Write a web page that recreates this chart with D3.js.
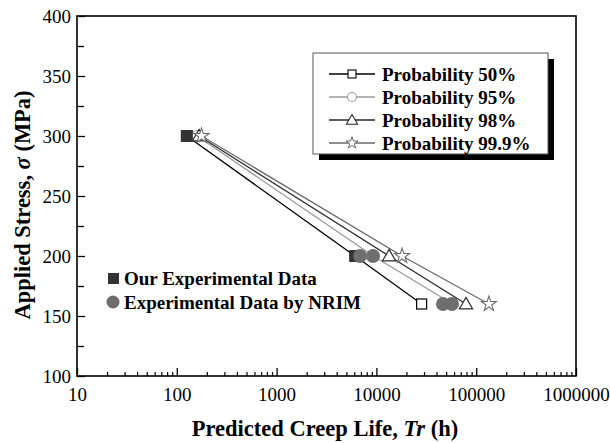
<!DOCTYPE html>
<html>
<head>
<meta charset="utf-8">
<script src="https://cdn.jsdelivr.net/npm/d3@7"></script>
<style>
  html, body { margin: 0; padding: 0; background: #fff; }
  svg { display: block; }
  text { font-family: "Liberation Serif", "Times New Roman", serif; }
</style>
</head>
<body>
<svg id="chart" width="610" height="443"></svg>
<script>
// Stress levels (MPa) and predicted creep life (h) for each probability curve
const stressLevels = [300, 200, 160];
const prob50  = [126, 6100, 28400];
const prob95  = [160, 9300, 58000];
const prob98  = [167, 13400, 79000];
const prob999 = [177, 18100, 134000];

// Measured rupture data
const ourStress = [300, 200];
const ourLife   = [126, 6200];
const nrimStress = [200, 200, 160, 160];
const nrimLife   = [6860, 9250, 46500, 57100];

// Axis ticks
const xTickValues = [10, 100, 1000, 10000, 100000, 1000000];
const xTickLabels = ["10", "100", "1000", "10000", "100000", "1000000"];
const yTickValues = [100, 150, 200, 250, 300, 350, 400];
const yTickLabels = ["100", "150", "200", "250", "300", "350", "400"];

const seriesNames = ["Probability 50%", "Probability 95%", "Probability 98%", "Probability 99.9%"];
const seriesValues = [prob50, prob95, prob98, prob999];

const svg = d3.select("#chart");
const margin = { left: 77, top: 16, right: 34, bottom: 67 };
const W = 610, H = 443;
const iw = W - margin.left - margin.right;
const ih = H - margin.top - margin.bottom;

const x = d3.scaleLog().domain([10, 1000000]).range([margin.left, margin.left + iw]);
const y = d3.scaleLinear().domain([100, 400]).range([margin.top + ih, margin.top]);

const styles = [
  { color: "#000", symbol: "square" },
  { color: "#9a9a9a", symbol: "circle" },
  { color: "#2a2a2a", symbol: "triangle" },
  { color: "#6a6a6a", symbol: "star" }
];

function drawMarker(g, type, cx, cy, color) {
  if (type === "square") {
    g.append("rect").attr("x", cx - 5).attr("y", cy - 5).attr("width", 10).attr("height", 10)
      .attr("fill", "#fff").attr("stroke", color).attr("stroke-width", 1.2);
  } else if (type === "circle") {
    g.append("circle").attr("cx", cx).attr("cy", cy).attr("r", 5.5)
      .attr("fill", "#fff").attr("stroke", color).attr("stroke-width", 1.2);
  } else if (type === "triangle") {
    g.append("path").attr("d", d3.symbol(d3.symbolTriangle, 75)())
      .attr("transform", `translate(${cx},${cy + 1})`)
      .attr("fill", "#fff").attr("stroke", color).attr("stroke-width", 1.2);
  } else {
    g.append("path").attr("d", d3.symbol(d3.symbolStar, 70)())
      .attr("transform", `translate(${cx},${cy})`)
      .attr("fill", "#fff").attr("stroke", color).attr("stroke-width", 1.1);
  }
}

// Axes (ticks point inward)
const xAxis = d3.axisBottom(x).tickValues(xTickValues)
  .tickFormat((d, i) => xTickLabels[i]).tickSizeInner(-8).tickSizeOuter(0).tickPadding(12);
const xMinor = [];
for (let e = 1; e < 6; e++) for (let k = 2; k <= 9; k++) xMinor.push(k * Math.pow(10, e));

const gx = svg.append("g").attr("transform", `translate(0,${margin.top + ih})`).call(xAxis);
gx.select(".domain").remove();
gx.selectAll(".tick line").attr("stroke", "#000").attr("stroke-width", 1.3);
gx.selectAll(".tick text").attr("font-size", 19).attr("fill", "#000");
svg.append("g").attr("transform", `translate(0,${margin.top + ih})`)
  .call(d3.axisBottom(x).tickValues(xMinor).tickFormat("").tickSizeInner(-4).tickSizeOuter(0))
  .call(g => g.select(".domain").remove())
  .selectAll(".tick line").attr("stroke", "#000").attr("stroke-width", 1.2);

const yAxis = d3.axisLeft(y).tickValues(yTickValues)
  .tickFormat((d, i) => yTickLabels[i]).tickSizeInner(-8).tickSizeOuter(0).tickPadding(6);
const gy = svg.append("g").attr("transform", `translate(${margin.left},0)`).call(yAxis);
gy.select(".domain").remove();
gy.selectAll(".tick line").attr("stroke", "#000").attr("stroke-width", 1.3);
gy.selectAll(".tick text").attr("font-size", 19).attr("fill", "#000");
svg.append("g").attr("transform", `translate(${margin.left},0)`)
  .call(d3.axisLeft(y).tickValues([125, 175, 225, 275, 325, 375]).tickFormat("").tickSizeInner(-7).tickSizeOuter(0))
  .call(g => g.select(".domain").remove())
  .selectAll(".tick line").attr("stroke", "#000").attr("stroke-width", 1.3);

// Frame
svg.append("rect").attr("x", margin.left).attr("y", margin.top).attr("width", iw).attr("height", ih)
  .attr("fill", "none").attr("stroke", "#000").attr("stroke-width", 1.6);

// Probability curves
const line = d3.line().x(d => x(d[0])).y(d => y(d[1]));
seriesValues.forEach((vals, si) => {
  const pts = vals.map((v, i) => [v, stressLevels[i]]);
  svg.append("path").attr("d", line(pts)).attr("fill", "none")
    .attr("stroke", styles[si].color).attr("stroke-width", 1.3);
});
seriesValues.forEach((vals, si) => {
  const g = svg.append("g");
  vals.forEach((v, i) => drawMarker(g, styles[si].symbol, x(v), y(stressLevels[i]), styles[si].color));
});

// Experimental data
svg.append("g").selectAll("rect").data(ourLife).join("rect")
  .attr("x", (d) => x(d) - 6).attr("y", (d, i) => y(ourStress[i]) - 6)
  .attr("width", 12).attr("height", 12).attr("fill", "#333");
svg.append("g").selectAll("circle").data(nrimLife).join("circle")
  .attr("cx", d => x(d)).attr("cy", (d, i) => y(nrimStress[i])).attr("r", 7)
  .attr("fill", "#6e6e6e");

// Experimental data legend
svg.append("rect").attr("x", 108).attr("y", 273).attr("width", 11).attr("height", 11).attr("fill", "#333");
svg.append("text").attr("x", 124).attr("y", 285).attr("font-size", 19).attr("font-weight", "bold")
  .text("Our Experimental Data");
svg.append("circle").attr("cx", 113).attr("cy", 302).attr("r", 6.5).attr("fill", "#6e6e6e");
svg.append("text").attr("x", 124).attr("y", 309).attr("font-size", 19).attr("font-weight", "bold")
  .text("Experimental Data by NRIM");

// Probability legend with drop shadow
const lg = svg.append("g");
lg.append("rect").attr("x", 319).attr("y", 59).attr("width", 235).attr("height", 101).attr("fill", "#000");
lg.append("rect").attr("x", 313).attr("y", 53).attr("width", 235).attr("height", 101)
  .attr("fill", "#fff").attr("stroke", "#555").attr("stroke-width", 1);
seriesNames.forEach((name, i) => {
  const cy = 74 + i * 23;
  lg.append("line").attr("x1", 329).attr("x2", 375).attr("y1", cy).attr("y2", cy)
    .attr("stroke", styles[i].color).attr("stroke-width", 1.3);
  const mg = lg.append("g");
  // legend markers are a bit smaller
  if (styles[i].symbol === "square") {
    mg.append("rect").attr("x", 348).attr("y", cy - 4).attr("width", 8).attr("height", 8)
      .attr("fill", "#fff").attr("stroke", styles[i].color).attr("stroke-width", 1.1);
  } else if (styles[i].symbol === "circle") {
    mg.append("circle").attr("cx", 352).attr("cy", cy).attr("r", 4.5)
      .attr("fill", "#fff").attr("stroke", styles[i].color).attr("stroke-width", 1.1);
  } else if (styles[i].symbol === "triangle") {
    mg.append("path").attr("d", d3.symbol(d3.symbolTriangle, 55)())
      .attr("transform", `translate(352,${cy + 1})`)
      .attr("fill", "#fff").attr("stroke", styles[i].color).attr("stroke-width", 1.1);
  } else {
    mg.append("path").attr("d", d3.symbol(d3.symbolStar, 45)())
      .attr("transform", `translate(352,${cy})`)
      .attr("fill", "#fff").attr("stroke", styles[i].color).attr("stroke-width", 1);
  }
  lg.append("text").attr("x", 382).attr("y", cy + 6.5).attr("font-size", 19).attr("font-weight", "bold")
    .attr("fill", "#000").text(name);
});

// Axis titles
const xt = svg.append("text").attr("x", 325).attr("y", 436).attr("text-anchor", "middle")
  .attr("font-size", 22.5).attr("font-weight", "bold");
xt.append("tspan").text("Predicted Creep Life, ");
xt.append("tspan").attr("font-style", "italic").text("Tr");
xt.append("tspan").text(" (h)");

const yt = svg.append("text").attr("transform", "translate(30,205) rotate(-90)")
  .attr("text-anchor", "middle").attr("font-size", 22.5).attr("font-weight", "bold");
yt.append("tspan").text("Applied Stress,  ");
yt.append("tspan").attr("font-style", "italic").text("σ");
yt.append("tspan").text(" (MPa)");
</script>
</body>
</html>
